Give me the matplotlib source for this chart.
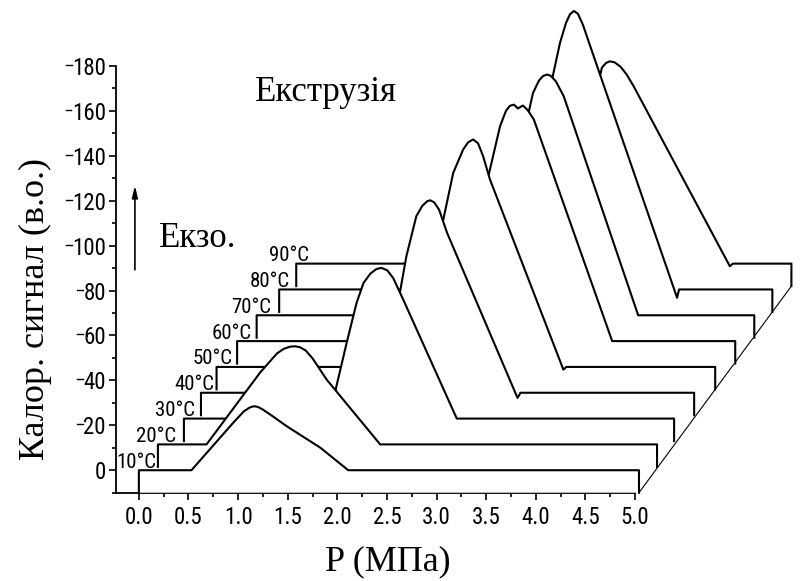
import numpy as np
import matplotlib.pyplot as plt
from matplotlib.ticker import MultipleLocator
from matplotlib.lines import Line2D

# temperatures of the measured isotherms
temps = [10, 20, 30, 40, 50, 60, 70, 80, 90]

# pressure (MPa) and calorimetric signal (a.u.) for each isotherm
p10 = [0.0, 0.53, 0.95, 1.06, 1.12, 1.16, 1.20, 1.25, 1.35, 1.49, 1.83, 2.11, 5.04]
s10 = [0, 0, 21.1, 26.3, 28.0, 28.5, 28.2, 27.0, 24.0, 19.6, 10.0, 0, 0]

p20 = [0.0, 0.49, 1.03, 1.20, 1.27, 1.33, 1.38, 1.43, 1.49, 1.56, 1.70, 2.24, 5.03]
s20 = [0, 0, 32.0, 40.5, 42.6, 43.5, 43.7, 43.3, 41.8, 38.2, 28.9, 0, 0]

p30 = [0.07, 1.53, 1.71, 1.81, 1.88, 1.95, 2.01, 2.06, 2.12, 2.18, 2.28, 2.82, 5.01]
s30 = [0, 0, 33.7, 51.5, 60.4, 64.6, 66.6, 67.1, 66.0, 62.5, 53.0, 0, 0]

p40 = [0.05, 1.85, 2.06, 2.12, 2.22, 2.28, 2.33, 2.36, 2.40, 2.45, 2.53, 3.24, 3.27, 5.02]
s40 = [0, 0, 45.9, 60.8, 78.6, 83.2, 85.3, 85.7, 84.8, 81.5, 71.2, -2.3, 0, 0]

p50 = [0.015, 1.98, 2.30, 2.40, 2.50, 2.55, 2.60, 2.65, 2.70, 2.77, 3.51, 3.54, 5.04]
s50 = [0, 0, 65.6, 86.4, 96.8, 100.0, 101.3, 99.6, 94.0, 83.5, -1.2, 0, 0]

p60 = [0.03, 2.18, 2.57, 2.68, 2.74, 2.78, 2.82, 2.86, 2.91, 2.96, 3.02, 3.81, 5.05]
s60 = [0, 0, 74.9, 95.7, 102.6, 104.8, 105.3, 103.6, 104.9, 102.8, 98.7, 0, 0]

p70 = [0.035, 2.26, 2.76, 2.82, 2.88, 2.92, 2.96, 3.00, 3.05, 3.13, 3.88, 5.05]
s70 = [0, 0, 87.2, 99.0, 104.5, 106.5, 107.2, 106.6, 104.2, 97.5, 0, 0]

p80 = [0.07, 2.34, 2.82, 2.90, 2.96, 3.00, 3.04, 3.08, 3.13, 3.24, 4.08, 4.10, 5.04]
s80 = [0, 0, 93.5, 109.8, 118.6, 122.5, 124.0, 122.8, 118.0, 103.8, -3.7, 0, 0]

p90 = [0.05, 2.67, 3.13, 3.17, 3.21, 3.26, 3.32, 3.38, 3.45, 4.42, 4.45, 5.04]
s90 = [0, 0, 87.2, 89.3, 90.1, 89.6, 87.6, 84.2, 79.0, -1.2, 0, 0]

pressures = [p10, p20, p30, p40, p50, p60, p70, p80, p90]
signals = [s10, s20, s30, s40, s50, s60, s70, s80, s90]

# waterfall shift between neighbouring isotherms and depth of the side walls
step_p = 0.192
step_s = 11.5
drop = 10.0

sans = ['Liberation Sans Narrow', 'Arial Narrow', 'Roboto Condensed',
        'Archivo Narrow', 'Liberation Sans']
serif = ['Liberation Serif', 'DejaVu Serif']

fig = plt.figure(figsize=(8.03, 5.81), dpi=100)
ax = fig.add_axes([0.1445, 0.152, 0.6463, 0.7344])

n = len(temps)
corner_x, corner_y = [], []
for i in reversed(range(n)):
    x = np.asarray(pressures[i]) + i * step_p
    y = np.asarray(signals[i]) + i * step_s
    floor = i * step_s - drop
    xs = np.r_[x[0], x, x[-1]]
    ys = np.r_[floor, y, floor]
    z = 10 + 2 * (n - i)
    ax.fill(xs, ys, color='white', lw=0, zorder=z, clip_on=False)
    ax.plot(xs, ys, color='black', lw=1.5, zorder=z + 1, clip_on=False,
            solid_joinstyle='round')
    ax.text(0.18 + i * step_p, i * step_s + 1.1, f'{temps[i]}°C',
            ha='right', va='baseline', family=sans, fontsize=15, zorder=40)
    corner_x.append(x[-1])
    corner_y.append(floor)

# edge of the floor under the right ends
ax.plot([corner_x[-1], corner_x[0]], [corner_y[-1], corner_y[0]],
        color='black', lw=0.8, zorder=5, clip_on=False)

ax.set_xlim(-0.23, 5.0)
ax.set_ylim(-10, 180)
ax.spines['top'].set_visible(False)
ax.spines['right'].set_visible(False)
for s in ('left', 'bottom'):
    ax.spines[s].set_linewidth(1.3)

ax.xaxis.set_major_locator(MultipleLocator(0.5))
ax.xaxis.set_minor_locator(MultipleLocator(0.25))
ax.yaxis.set_major_locator(MultipleLocator(20))
ax.yaxis.set_minor_locator(MultipleLocator(10))
ax.tick_params(which='major', direction='out', length=5.3, width=1.2)
ax.tick_params(which='minor', direction='out', length=3.0, width=1.2)
ax.tick_params(axis='x', which='major', pad=4.5)
ax.tick_params(axis='y', which='major', pad=2)
ax.set_xticks(np.arange(0, 5.01, 0.5))
ax.set_xticklabels([f'{v:.1f}' for v in np.arange(0, 5.01, 0.5)])
for lbl in ax.get_xticklabels() + ax.get_yticklabels():
    lbl.set_family(sans)
    lbl.set_fontsize(16.5)

ax.text(1.17, 164.6, 'Екструзія', family=serif, fontsize=25,
        ha='left', va='baseline')
ax.text(0.205, 99.6, 'Екзо.', family=serif, fontsize=25,
        ha='left', va='baseline')
ax.annotate('', xy=(-0.04, 128), xytext=(-0.04, 88),
            arrowprops=dict(arrowstyle='-|>,head_width=0.12,head_length=0.5',
                            lw=1.2, color='black', mutation_scale=14))

fig.text(35 / 803, 1 - 309 / 581, 'Калор. сигнал (в.о.)', family=serif,
         fontsize=26, rotation=90, ha='center', va='center')
fig.text(388 / 803, 1 - 562 / 581, 'P (МПа)', family=serif, fontsize=26,
         ha='center', va='center')

# short strokes in front of the non-zero signal labels
fig.canvas.draw()
for val, lbl in zip(ax.get_yticks(), ax.get_yticklabels()):
    if val <= 0 or val > 180:
        continue
    bb = lbl.get_window_extent()
    yp = ax.transData.transform((0, val))[1] + 1
    x0 = bb.x0 - 6
    x1 = bb.x0 - 0.5
    fig.add_artist(Line2D([x0 / fig.bbox.width, x1 / fig.bbox.width],
                          [yp / fig.bbox.height, yp / fig.bbox.height],
                          color='black', lw=1.0, transform=fig.transFigure))

fig.savefig('out.png', dpi=100)
